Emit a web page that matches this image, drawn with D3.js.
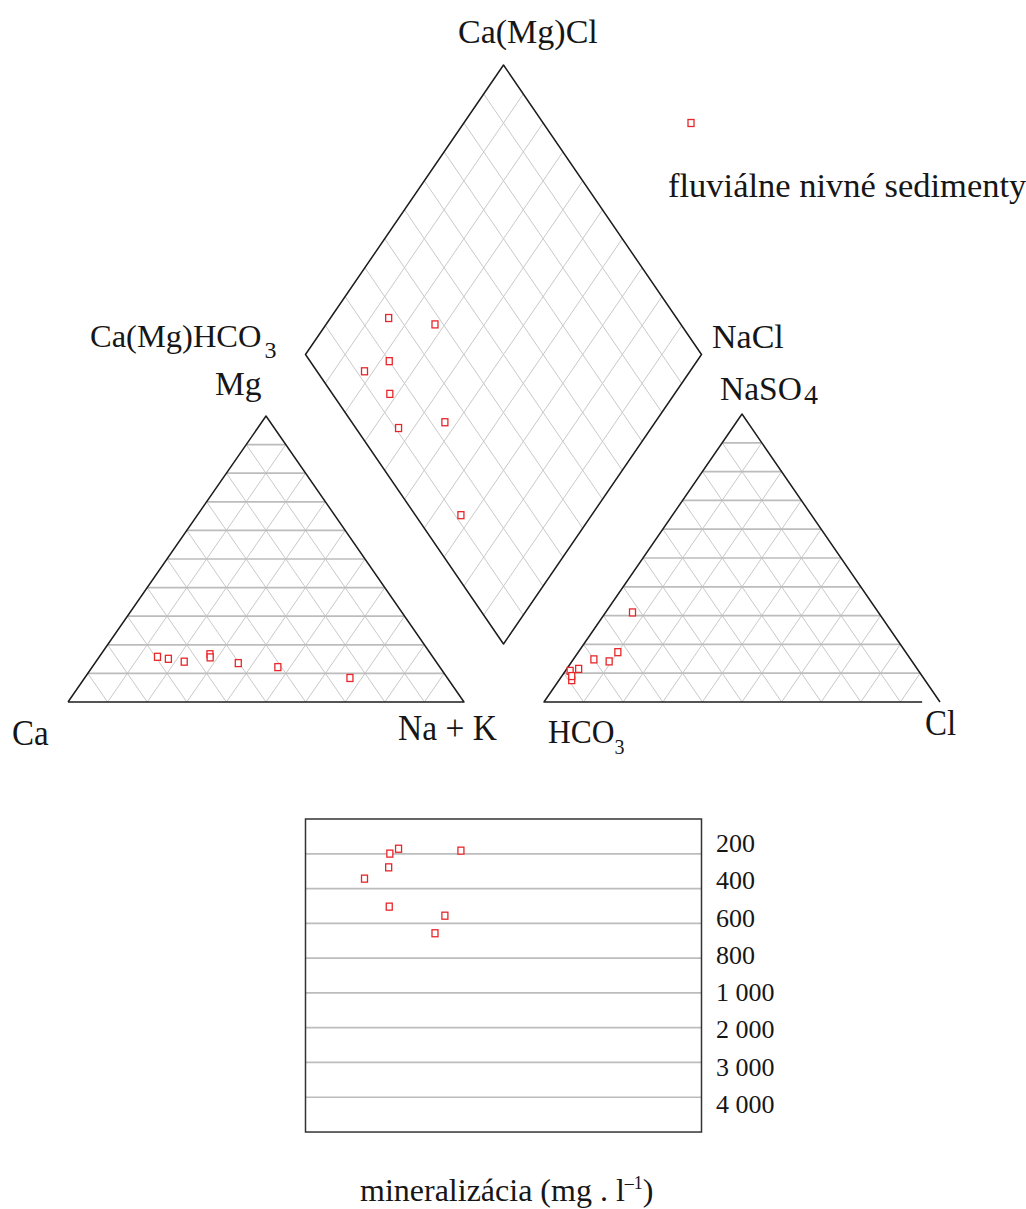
<!DOCTYPE html>
<html>
<head>
<meta charset="utf-8">
<script src="https://cdn.jsdelivr.net/npm/d3@7"></script>
<style>
  body { margin: 0; background: #fff; }
  svg { display: block; }
  text { font-family: "Liberation Serif", "Times New Roman", serif; fill: #161616; }
</style>
</head>
<body>
<svg id="chart" width="1026" height="1209"></svg>
<script>
// Cation composition of each sample (% meq)
const cationCa  = [69.5, 67.1, 63.6, 55.8, 56.3, 50.2, 40.9, 24.6];
const cationMg  = [15.8, 15.1, 14.1, 16.7, 15.6, 13.6, 12.2,  8.4];
const cationNaK = [14.7, 17.8, 22.3, 27.5, 28.1, 36.2, 46.9, 67.0];
// Anion composition of each sample (% meq)
const anionHCO3 = [72.7, 88.0, 80.0, 62.1, 85.5, 89.2, 76.5, 88.5];
const anionSO4  = [17.3, 10.8, 14.8, 31.1, 11.5,  7.6, 14.1,  9.0];
const anionCl   = [10.0,  1.2,  5.2,  6.8,  3.0,  3.2,  9.4,  2.5];
// Total mineralization (mg/l)
const mineralization = [278, 343, 504, 657, 199, 171, 556, 182];
// Mineralization axis
const tdsBreaks = [0, 200, 400, 600, 800, 1000, 2000, 3000, 4000, 5000];
const tdsTicks = [200, 400, 600, 800, 1000, 2000, 3000, 4000];
const tdsTickLabels = ["200", "400", "600", "800", "1 000", "2 000", "3 000", "4 000"];
const seriesName = "fluviálne nivné sedimenty";

const samples = cationCa.map((ca, i) => ({
  ca, mg: cationMg[i], nak: cationNaK[i],
  hco3: anionHCO3[i], so4: anionSO4[i], cl: anionCl[i],
  tds: mineralization[i]
}));

const svg = d3.select("#chart");
const gridMajor = "#bcbcbc", gridMinor = "#c9c9c9", outline = "#1c1c1c", red = "#e8262a";
const levels = d3.range(10, 100, 10);

// ---- scales ----
const catBase = d3.scaleLinear().domain([0, 100]).range([68, 464]);
const catUp   = d3.scaleLinear().domain([0, 100]).range([702, 416]);
const catXY = (ca, mg, nak) => [catBase(nak + mg / 2), catUp(mg)];

const anBase = d3.scaleLinear().domain([0, 100]).range([544, 940]);
const anUp   = d3.scaleLinear().domain([0, 100]).range([702, 414]);
const anXY = (hco3, so4, cl) => [anBase(cl + so4 / 2), anUp(so4)];

// diamond: n = Na+K %, a = Cl+SO4 %
const dX = d3.scaleLinear().domain([0, 200]).range([305.5, 701.5]);
const dY = d3.scaleLinear().domain([-100, 100]).range([65, 644]);
const dmXY = (n, a) => [dX(n + a), dY(n - a)];

const tdsY = d3.scaleLinear().domain(tdsBreaks)
  .range(tdsBreaks.map((_, i) => 819 + i * 34.78));
const tickY = d3.scalePoint().domain(tdsTickLabels).range([852, 1113]);

const lineGen = d3.line();

function gridLines(g, segs, color, width) {
  g.append("g").selectAll("path").data(segs).join("path")
    .attr("d", d => lineGen(d))
    .attr("fill", "none").attr("stroke", color).attr("stroke-width", width);
}

// Triangle grid: xy(left, apex, right)
function triangle(xy, outlinePts) {
  const g = svg.append("g");
  gridLines(g, levels.map(v => [xy(100 - v, 0, v), xy(0, 100 - v, v)]), gridMinor, 1);
  gridLines(g, levels.map(v => [xy(v, 0, 100 - v), xy(v, 100 - v, 0)]), gridMinor, 1);
  gridLines(g, levels.map(v => [xy(100 - v, v, 0), xy(0, v, 100 - v)]), gridMajor, 1.7);
  g.append("path").attr("d", lineGen(outlinePts))
    .attr("fill", "none").attr("stroke", outline).attr("stroke-width", 1.5)
    .attr("stroke-linejoin", "round");
  return g;
}

const catG = triangle(catXY, [catXY(100, 0, 0), catXY(0, 100, 0), catXY(0, 0, 100), catXY(100, 0, 0)]);
const anG = triangle(anXY, [anXY(0, 0, 100), anXY(0, 100, 0), anXY(100, 0, 0), anXY(4.5, 0, 95.5)]);

// Diamond
const dmG = svg.append("g");
gridLines(dmG, levels.map(v => [dmXY(v, 0), dmXY(v, 100)]), gridMinor, 1);
gridLines(dmG, levels.map(v => [dmXY(0, v), dmXY(100, v)]), gridMinor, 1);
dmG.append("path")
  .attr("d", lineGen([dmXY(0, 0), dmXY(0, 100), dmXY(100, 100), dmXY(100, 0)]) + "Z")
  .attr("fill", "none").attr("stroke", outline).attr("stroke-width", 1.5)
  .attr("stroke-linejoin", "round");

// Mineralization panel
const boxG = svg.append("g");
boxG.selectAll("line").data(tdsTicks).join("line")
  .attr("x1", dX(0)).attr("x2", dX(200))
  .attr("y1", d => tdsY(d)).attr("y2", d => tdsY(d))
  .attr("stroke", gridMajor).attr("stroke-width", 1.7);
boxG.append("rect")
  .attr("x", dX(0)).attr("y", tdsY(0))
  .attr("width", dX(200) - dX(0)).attr("height", tdsY(5000) - tdsY(0))
  .attr("fill", "none").attr("stroke", "#333").attr("stroke-width", 1.5);
boxG.selectAll("text").data(tdsTickLabels).join("text")
  .attr("x", 716).attr("y", d => tickY(d))
  .attr("font-size", 26).text(d => d);

// Sample markers
function markers(g, pos) {
  g.append("g").selectAll("rect").data(samples).join("rect")
    .attr("x", d => pos(d)[0] - 3).attr("y", d => pos(d)[1] - 3.5)
    .attr("width", 6).attr("height", 7)
    .attr("fill", "#fff").attr("stroke", red).attr("stroke-width", 1.3);
}
markers(catG, d => catXY(d.ca, d.mg, d.nak));
markers(anG, d => anXY(d.hco3, d.so4, d.cl));
markers(dmG, d => dmXY(d.nak, d.so4 + d.cl));
markers(boxG, d => [dX(d.nak + d.so4 + d.cl), tdsY(d.tds)]);

// Legend
svg.append("rect").attr("x", 688).attr("y", 119.5).attr("width", 6).attr("height", 7)
  .attr("fill", "#fff").attr("stroke", red).attr("stroke-width", 1.3);
svg.append("text").attr("x", 668).attr("y", 197).attr("font-size", 34.5).text(seriesName);

// Labels with optional sub/superscript parts: [text, dy, size, dx]
function label(x, y, size, parts, sy) {
  const t = svg.append("text").attr("font-size", size)
    .attr("transform", `translate(${x},${y}) scale(1,${sy || 1})`);
  parts.forEach(([s, dy, fs, dx]) => {
    t.append("tspan").attr("dy", dy || 0).attr("dx", dx || 0)
      .attr("font-size", fs || size).text(s);
  });
}
label(458, 43, 34, [["Ca(Mg)Cl"]]);
label(90, 347, 32.5, [["Ca(Mg)HCO"], ["3", 11, 24, 3]]);
label(215, 395, 33.5, [["Mg"]]);
label(712, 348, 34, [["NaCl"]]);
label(720, 400, 33.5, [["NaSO"], ["4", 4, 28, 2]]);
label(12, 745, 33, [["Ca"]], 1.08);
label(398, 740, 33.5, [["Na + K"]], 1.08);
label(548, 743, 31.5, [["HCO"], ["3", 10, 20]], 1.08);
label(925, 735, 33, [["Cl"]], 1.08);
label(360, 1201, 32, [["mineralizácia (mg . l"], ["–1", -12, 18], [")", 12, 32]]);
</script>
</body>
</html>
